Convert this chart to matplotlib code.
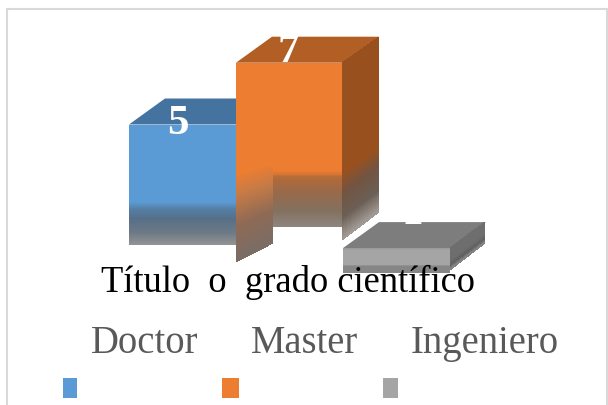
import numpy as np
from matplotlib import pyplot as plt
from matplotlib.colors import to_rgb
from matplotlib.patches import Polygon, Rectangle

categories = ['Doctor', 'Master', 'Ingeniero']
values = [5, 7, 1]
title = 'Título  o  grado científico'

W, H = 608, 405
BASE_PX = 279       # pixel row of value 0
UNIT_PX = 30.9      # pixels per unit of value
LEFT_PX = 129
BAR_PX = 107
DX, DY = 36, 26     # 3d depth in pixels

plt.rcParams['font.family'] = ['Liberation Serif', 'DejaVu Serif']

fig = plt.figure(figsize=(W / 100, H / 100), dpi=100)
ax = fig.add_axes([0, 0, 1, 1])
# one unit on x is one category, one unit on y is one unit of value
ax.set_xlim((0 - LEFT_PX - BAR_PX / 2) / BAR_PX, (W - LEFT_PX - BAR_PX / 2) / BAR_PX)
ax.set_ylim((BASE_PX - H) / UNIT_PX, BASE_PX / UNIT_PX)
ax.axis('off')


def vy(p):
    return (BASE_PX - p) / UNIT_PX


def ux(p):
    return (p - LEFT_PX - BAR_PX / 2) / BAR_PX


def top_px(v):
    return BASE_PX - v * UNIT_PX


def shaded(xs, top, bottom, stops, z=2):
    # vertical colour ramp between two edges, edges may be slanted
    # xs in pixels, top/bottom are (left, right) pixel rows, stops (frac, colour)
    fr = np.linspace(0, 1, 121)
    fracs = [s[0] for s in stops]
    rgb = np.array([to_rgb(s[1]) for s in stops])
    col = np.stack([np.interp((fr[:-1] + fr[1:]) / 2, fracs, rgb[:, k]) for k in range(3)], axis=-1)
    col = col[:, None, :]
    X = np.array([[ux(xs[0]), ux(xs[1])]] * len(fr))
    Y = np.array([[vy(top[0] + f * (bottom[0] - top[0])), vy(top[1] + f * (bottom[1] - top[1]))] for f in fr])
    ax.pcolormesh(X, Y, col, shading='flat', zorder=z, linewidth=0, antialiased=False, rasterized=True)


def poly(pts, color, z=2):
    ax.add_patch(Polygon([(ux(x), vy(y)) for x, y in pts], closed=True, fc=color, ec='none', zorder=z))


def top_face(i, color, z):
    left = LEFT_PX + i * BAR_PX
    t = top_px(values[i])
    poly([(left, t), (left + BAR_PX, t), (left + BAR_PX + DX, t - DY), (left + DX, t - DY)], color, z)


# frame
ax.add_patch(Rectangle((ux(6.5), vy(H + 5)), ux(606.5) - ux(6.5), vy(9) - vy(H + 5), fc='none', ec='#d9d9d9', lw=1.5, zorder=1))

# Doctor
t0 = top_px(values[0])
top_face(0, '#44739f', 2)
shaded((129, 236), (t0, t0), (245, 245),
       [(0, '#5b9bd5'), (0.64, '#5b9bd5'), (0.70, '#557fa6'), (0.78, '#566f88'), (0.90, '#6e7a86'), (1, '#949494')], 3)

# Master
t1 = top_px(values[1])
top_face(1, '#b15f25', 4)
shaded((342, 379), (t1, t1 - DY), (240, 212),
       [(0, '#98511e'), (0.63, '#98511e'), (0.74, '#735441'), (0.88, '#6b5f55'), (1, '#a39c96')], 4)
shaded((273, 342), (t1, t1), (227, 227),
       [(0, '#ed7d31'), (0.66, '#ed7d31'), (0.70, '#b26a38'), (0.78, '#9a6a48'), (0.90, '#83705f'), (1, '#8f8680')], 5)
shaded((236, 273), (t1, t1), (262, 243),
       [(0, '#ed7d31'), (0.56, '#ed7d31'), (0.66, '#c97b45'), (0.82, '#8f6a54'), (1, '#7a6d66')], 5)

# Ingeniero
t2 = top_px(values[2])
top_face(2, '#7d7d7d', 2)
shaded((450, 485), (t2, t2 - DY), (t2 + 22, t2 - 5),
       [(0, '#6e6e6e'), (0.6, '#6e6e6e'), (0.82, '#5f5f5f'), (1, '#8a8a8a')], 2)
shaded((343, 450), (t2, t2), (t2 + 25, t2 + 25),
       [(0, '#999999'), (0.1, '#a5a5a5'), (0.66, '#a5a5a5'), (0.72, '#868686'), (1, '#868686')], 3)

# value labels, white, so only the part on a coloured face shows
label_y = [134, 62, 224]
label_x = [178, 288, 412]
for i, v in enumerate(values):
    ax.text(ux(label_x[i]), vy(label_y[i]), str(v), color='white', fontsize=31, fontweight='bold',
            ha='center', va='baseline', zorder=6)

ax.text(ux(101), vy(292), title, color='black', fontsize=26.3, ha='left', va='baseline', zorder=7)

legend_text_x = [91, 251, 411]
legend_box_x = [(63, 77), (222, 239), (383, 398)]
legend_colors = ['#5b9bd5', '#ed7d31', '#a5a5a5']
for name, tx, (b0, b1), c in zip(categories, legend_text_x, legend_box_x, legend_colors):
    ax.text(ux(tx), vy(353), name, color='#595959', fontsize=27.8, ha='left', va='baseline', zorder=7)
    ax.add_patch(Rectangle((ux(b0), vy(398)), ux(b1) - ux(b0), vy(378) - vy(398), fc=c, ec='none', zorder=7))

fig.savefig('out.png', dpi=100)
